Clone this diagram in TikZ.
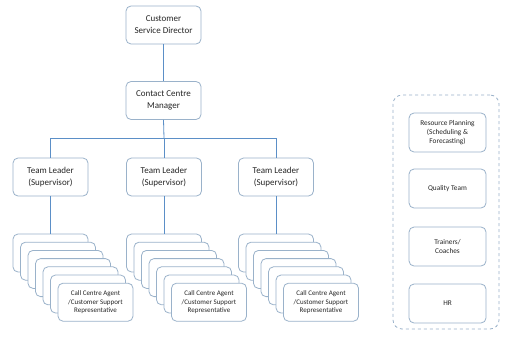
\documentclass[tikz,border=0pt]{standalone}
\usepackage{fontspec}
\setmainfont{Carlito}
\definecolor{boxline}{HTML}{9AB2CA}
\definecolor{conn}{HTML}{5B8FC7}
\definecolor{txt}{HTML}{262626}
\begin{document}
\begin{tikzpicture}[x=1pt,y=-1pt,
  card/.style={draw=boxline, line width=0.8pt, fill=white, rounded corners=5pt, align=center, text=txt, inner sep=1pt},
  bigbox/.style={card, minimum width=75pt, minimum height=38pt, font=\fontsize{9}{12}\selectfont},
  agent/.style={card, minimum width=75pt, minimum height=38pt, font=\fontsize{7}{8.7}\selectfont},
  side/.style={card, minimum width=77pt, minimum height=39pt, font=\fontsize{7.3}{8.8}\selectfont},
  link/.style={draw=conn, line width=0.8pt}]
\useasboundingbox (0,0) rectangle (510,345);
\fill[white] (0,0) rectangle (510,345);

\node[bigbox] (csd) at (163.5,25) {Customer\\Service Director};
\node[bigbox] (ccm) at (163.5,100.5) {Contact Centre\\Manager};
\node[bigbox] (tl1) at (50.5,177) {Team Leader\\(Supervisor)};
\node[bigbox] (tl2) at (164,177) {Team Leader\\(Supervisor)};
\node[bigbox] (tl3) at (276,177) {Team Leader\\(Supervisor)};

\foreach \s/\x in {1/50.5, 2/164, 3/276} {
  \foreach \i in {0,...,5} {
    \node[agent] (a\s-\i) at ({\x+7.5*\i},{253+8.2*\i}) {};
  }
  \node[agent] (a\s-6) at ({\x+45},{302.2}) {Call Centre Agent\\/Customer Support\\Representative};
}

\coordinate (barL) at (50.5,138);
\coordinate (barM) at (164,138);
\coordinate (barR) at (276,138);
\draw[link] (csd.south) -- (ccm.north);
\draw[link] (ccm.south) -- (barM);
\draw[link] (tl1.north) -- (barL) -- (barR) -- (tl3.north);
\draw[link] (tl2.north) -- (barM);
\draw[link] (tl1.south) -- (a1-0.north);
\draw[link] (tl2.south) -- (a2-0.north);
\draw[link] (tl3.south) -- (a3-0.north);

\node[draw=boxline, line width=0.8pt, dashed, rounded corners=9pt, minimum width=106pt, minimum height=234pt] (panel) at (446,212) {};
\node[side] (rp) at (447.5,132.5) {Resource Planning\\(Scheduling \&\\Forecasting)};
\node[side] (qt) at (447.5,188.5) {Quality Team};
\node[side] (tr) at (447.5,246.5) {Trainers/\\Coaches};
\node[side] (hrbox) at (447.5,303.5) {HR};
\end{tikzpicture}
\end{document}
